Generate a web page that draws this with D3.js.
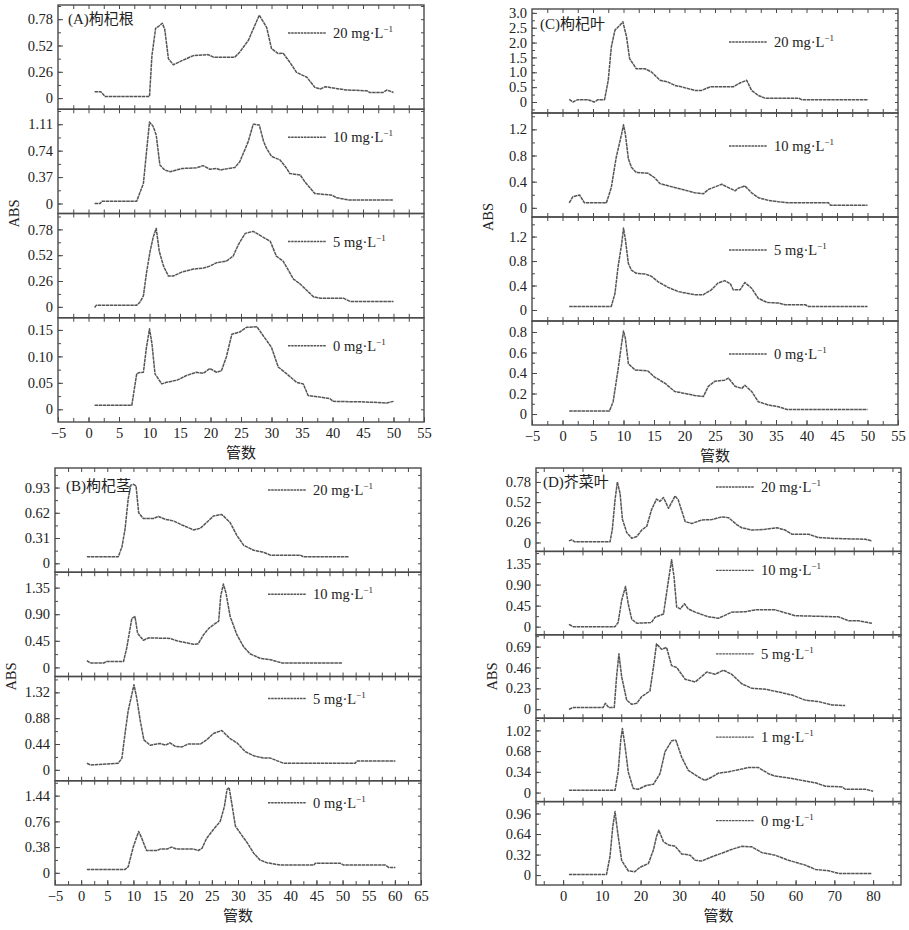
<!DOCTYPE html>
<html>
<head>
<meta charset="utf-8">
<script src="https://cdn.jsdelivr.net/npm/d3@7"></script>
<style>
  body { margin: 0; background: #fff; }
  text { fill: #222; }
</style>
</head>
<body>
<div id="chart"></div>
<script>
// ---- data: [tube, ABS] ----
const rootA20 = [[1,0.063],[2,0.063],[2.7,0.017],[10,0.017],[10.4,0.42],[11,0.69],[11.5,0.71],[12.1,0.74],[12.5,0.68],[13.1,0.39],[13.9,0.33],[15.3,0.37],[17.2,0.42],[19.6,0.43],[20.5,0.405],[24,0.405],[24.8,0.455],[26.2,0.57],[28,0.82],[29.2,0.70],[30,0.49],[31.1,0.44],[31.9,0.445],[33,0.355],[34.1,0.255],[35.8,0.206],[37.1,0.106],[38,0.09],[38.8,0.113],[40.1,0.10],[42.3,0.08],[45.6,0.073],[46.1,0.056],[48.3,0.056],[48.9,0.08],[50,0.056]];
const rootA10 = [[1,0],[1.9,0],[2.2,0.033],[7.9,0.033],[9,0.28],[9.4,0.63],[10,1.14],[10.6,1.08],[11.1,0.96],[11.7,0.54],[12.5,0.47],[13.4,0.445],[15.3,0.49],[17.7,0.50],[18.8,0.53],[19.9,0.48],[21,0.49],[21.6,0.47],[24,0.505],[24.8,0.585],[26.2,0.87],[27,1.11],[28,1.10],[28.7,0.87],[29.2,0.77],[30,0.66],[31.4,0.61],[32.5,0.49],[33,0.42],[34.7,0.40],[35.5,0.30],[37.1,0.14],[38.8,0.126],[39.9,0.117],[40.7,0.08],[42.6,0.05],[50,0.05]];
const rootA5 = [[1,-0.007],[1.3,0.017],[7.9,0.017],[8.4,0.044],[9,0.11],[9.5,0.34],[10.1,0.56],[10.6,0.70],[11.1,0.79],[11.6,0.56],[12.3,0.41],[13.1,0.31],[13.9,0.31],[15.3,0.35],[17.2,0.38],[18.8,0.39],[19.9,0.41],[21,0.445],[22.6,0.46],[23.7,0.51],[24.6,0.63],[25.7,0.74],[27,0.76],[28.4,0.71],[29.8,0.66],[30.8,0.51],[31.9,0.46],[33.6,0.28],[34.7,0.23],[36.9,0.10],[38,0.087],[41.8,0.087],[42.9,0.054],[50,0.054]];
const rootA0 = [[1,0.0075],[7.1,0.0075],[7.9,0.067],[8.2,0.069],[9,0.070],[9.5,0.117],[10,0.152],[10.4,0.124],[10.9,0.067],[12,0.048],[12.8,0.051],[14.5,0.055],[16.1,0.064],[17.7,0.070],[18.8,0.068],[19.9,0.077],[21,0.070],[21.8,0.073],[22.6,0.099],[23.5,0.142],[24.8,0.146],[25.9,0.155],[27.6,0.156],[29.2,0.13],[30,0.117],[31.1,0.080],[32.5,0.067],[34.1,0.051],[35.2,0.048],[36,0.026],[38,0.023],[39.6,0.020],[40.1,0.015],[45.1,0.014],[48.9,0.012],[50,0.015]];

const stemB20 = [[1.1,0.08],[7.1,0.08],[7.8,0.20],[8.4,0.42],[9,0.79],[9.5,0.96],[10,0.97],[10.5,0.95],[11,0.62],[11.9,0.55],[13.8,0.55],[14.8,0.575],[16.1,0.54],[17.7,0.52],[19.3,0.47],[21.5,0.41],[22.8,0.43],[24,0.50],[25.3,0.58],[26.9,0.60],[28.5,0.50],[29.8,0.34],[31.1,0.22],[33,0.16],[34.9,0.135],[36.2,0.10],[41.9,0.10],[42.5,0.08],[51.2,0.08]];
const stemB10 = [[1.1,0.115],[1.7,0.075],[4.3,0.075],[4.9,0.10],[8.1,0.10],[8.7,0.32],[9.7,0.83],[10.3,0.86],[10.8,0.575],[11.9,0.46],[12.9,0.50],[17,0.49],[18.3,0.45],[20.5,0.41],[21.5,0.39],[22.4,0.40],[23.4,0.55],[24.4,0.66],[25.3,0.72],[26.3,0.78],[26.7,1.21],[27.2,1.41],[27.7,1.26],[28.5,0.86],[29.8,0.55],[31.1,0.345],[32.3,0.23],[34.2,0.155],[36.2,0.13],[38.4,0.075],[49.9,0.075]];
const stemB5 = [[1.1,0.112],[1.8,0.084],[7.1,0.112],[7.8,0.20],[8.4,0.62],[9,1.01],[9.7,1.29],[10.1,1.45],[10.6,1.24],[11.3,0.84],[12,0.51],[13.2,0.42],[15.1,0.45],[16.1,0.42],[17,0.46],[18,0.40],[19.3,0.39],[20.5,0.44],[22.8,0.44],[24,0.51],[25.3,0.62],[26.9,0.67],[28.5,0.53],[29.8,0.46],[31.4,0.31],[33,0.24],[34.9,0.20],[36.2,0.20],[37.4,0.157],[38.7,0.112],[52.4,0.112],[52.8,0.15],[60.1,0.15]];
const stemB0 = [[1.1,0.05],[8.4,0.05],[9,0.09],[10,0.39],[11,0.61],[11.6,0.51],[12.5,0.33],[14.5,0.33],[15.1,0.35],[16.4,0.35],[17.3,0.38],[18.3,0.35],[21.5,0.35],[22.4,0.33],[23.1,0.36],[24,0.51],[25.3,0.64],[26.6,0.76],[27.4,0.98],[27.9,1.23],[28.3,1.26],[28.8,1.03],[29.5,0.69],[30.4,0.59],[31.7,0.45],[33,0.29],[34.2,0.19],[35.5,0.15],[36.2,0.14],[38.1,0.114],[44.5,0.114],[44.8,0.14],[49.6,0.14],[50.2,0.114],[58.2,0.114],[58.8,0.08],[60.1,0.08]];

const leafC20 = [[1.1,0.09],[1.7,0],[2.5,0.08],[4.2,0.08],[5.2,0],[5.8,0.08],[6.9,0.08],[7.5,0.73],[8,1.85],[8.6,2.42],[9.4,2.58],[9.9,2.70],[10.5,2.19],[11,1.46],[12.1,1.12],[13.5,1.12],[14.6,1.01],[16,0.73],[17.3,0.67],[18.4,0.56],[19.5,0.51],[20.6,0.45],[21.7,0.39],[22.8,0.39],[24.2,0.51],[28,0.51],[29.1,0.64],[30.2,0.73],[31,0.39],[32.1,0.22],[33.2,0.13],[38.7,0.13],[39.2,0.08],[50,0.08]];
const leafC10 = [[1.1,0.077],[1.7,0.17],[2.8,0.196],[3.6,0.077],[7.2,0.077],[8,0.31],[8.8,0.77],[9.7,1.13],[10,1.27],[10.3,1.13],[10.8,0.75],[11.3,0.62],[12.1,0.54],[14,0.53],[15.1,0.46],[16,0.37],[18.4,0.31],[20.1,0.27],[21.7,0.23],[23.1,0.216],[23.9,0.28],[25,0.32],[26.1,0.36],[27.2,0.31],[28.3,0.26],[28.8,0.30],[29.9,0.335],[31,0.23],[32.1,0.155],[33.8,0.113],[35.4,0.093],[37,0.077],[43.6,0.077],[43.9,0.041],[50,0.041]];
const leafC5 = [[1.1,0.059],[8,0.059],[8.6,0.27],[9.1,0.70],[9.7,1.08],[10,1.34],[10.3,1.16],[10.8,0.76],[11.3,0.65],[12.1,0.60],[13.5,0.59],[14.6,0.55],[15.7,0.46],[17.3,0.37],[19,0.30],[20.6,0.27],[21.7,0.25],[23.1,0.25],[24.4,0.33],[25.5,0.44],[26.6,0.48],[27.5,0.43],[28,0.33],[29.1,0.33],[29.9,0.45],[31,0.355],[32.1,0.19],[33.5,0.124],[35.4,0.113],[36.5,0.086],[39.8,0.086],[40.3,0.059],[50,0.059]];
const leafC0 = [[1.1,0.03],[7.7,0.03],[8.3,0.12],[9.1,0.43],[9.7,0.69],[10,0.81],[10.3,0.74],[10.8,0.49],[11.9,0.43],[14,0.42],[15.1,0.36],[16.8,0.30],[18.4,0.22],[20.1,0.20],[21.7,0.18],[23.1,0.17],[23.9,0.27],[25,0.32],[26.6,0.33],[27.2,0.35],[28.3,0.27],[29.4,0.25],[29.9,0.28],[31,0.22],[32.1,0.12],[33.8,0.087],[35.4,0.071],[36.8,0.045],[50,0.045]];

const mustD20 = [[1.5,0.02],[2.2,0.034],[3,0.008],[12.1,0.008],[12.7,0.17],[13.4,0.55],[14,0.78],[14.7,0.63],[15.3,0.30],[16.4,0.13],[17.7,0.055],[19,0.076],[20.3,0.16],[21.6,0.21],[22.8,0.42],[24.1,0.56],[25,0.53],[25.9,0.58],[27.2,0.44],[28.9,0.60],[29.7,0.55],[31.5,0.27],[33.2,0.245],[35.8,0.29],[38.4,0.295],[40.9,0.33],[42.7,0.32],[44.8,0.23],[46.1,0.19],[48.7,0.16],[52.2,0.17],[55.2,0.19],[57.3,0.16],[59.1,0.105],[63.4,0.105],[65.9,0.063],[71.1,0.05],[78,0.042],[79.7,0.02]];
const mustD10 = [[1.5,0.05],[2.6,0],[13.4,0],[14.2,0.09],[15.1,0.56],[16.1,0.86],[16.8,0.49],[17.7,0.16],[19,0.073],[22.8,0.09],[23.7,0.20],[25.9,0.27],[27.2,1.0],[28,1.43],[28.6,1.08],[29.3,0.42],[30.2,0.38],[31.3,0.49],[32.3,0.38],[34.1,0.31],[37.5,0.21],[40.1,0.18],[43.5,0.31],[47,0.32],[49.6,0.36],[54.7,0.36],[59.9,0.235],[71.1,0.21],[73.7,0.125],[76.3,0.125],[79.7,0.073]];
const mustD5 = [[1.5,0],[2.6,0.018],[10.3,0.018],[10.9,0.065],[11.8,0.018],[13.2,0.018],[13.8,0.36],[14.4,0.61],[15.1,0.36],[16.4,0.10],[17.7,0.054],[19,0.065],[20.3,0.14],[22.4,0.20],[23.3,0.46],[24.1,0.72],[25.4,0.66],[26.7,0.68],[28,0.48],[29.3,0.46],[31.5,0.33],[34.1,0.30],[37.1,0.41],[39.2,0.385],[41.4,0.43],[43.5,0.385],[46.1,0.28],[48.7,0.23],[52.2,0.22],[55.6,0.19],[59.1,0.156],[62.5,0.10],[65.9,0.084],[69.4,0.047],[72.8,0.04]];
const mustD1 = [[1.5,0.038],[13.4,0.038],[14.2,0.34],[14.9,0.88],[15.3,1.05],[15.9,0.80],[16.8,0.34],[18.1,0.065],[19.4,0.055],[21.6,0.12],[23.3,0.136],[25,0.31],[26.3,0.67],[28,0.85],[29.1,0.86],[30.6,0.58],[32.3,0.365],[34.9,0.256],[36.6,0.20],[38.4,0.256],[40.1,0.32],[42.7,0.34],[45.3,0.376],[47.8,0.41],[50.4,0.41],[53,0.31],[54.7,0.27],[58.2,0.24],[61.6,0.20],[65.1,0.16],[67.7,0.104],[72,0.093],[72.8,0.055],[78,0.055],[80,0.022]];
const mustD0 = [[1.5,0.01],[11.2,0.01],[12.1,0.29],[12.8,0.75],[13.4,0.99],[14,0.70],[15.1,0.23],[16.8,0.067],[18.5,0.052],[19.8,0.12],[22,0.18],[23.3,0.39],[24.1,0.60],[24.7,0.70],[25.9,0.52],[27.2,0.47],[28.9,0.45],[30.6,0.33],[32.8,0.31],[34.1,0.23],[35.8,0.22],[38.4,0.285],[40.9,0.34],[43.5,0.40],[46.1,0.45],[48.7,0.44],[51.3,0.35],[54.7,0.31],[58.2,0.23],[62.5,0.155],[65.1,0.088],[68.5,0.067],[71.1,0.026],[79.7,0.026]];

// ---- axes: tick values, tick labels, axis ranges ----
const xTicksAC = [-5,0,5,10,15,20,25,30,35,40,45,50,55];
const xTicksB = [-5,0,5,10,15,20,25,30,35,40,45,50,55,60,65];
const xTicksD = [0,10,20,30,40,50,60,70,80];

const yTicksA = [[0,0.26,0.52,0.78],[0,0.37,0.74,1.11],[0,0.26,0.52,0.78],[0,0.05,0.10,0.15]];
const yLabelsA = [["0","0.26","0.52","0.78"],["0","0.37","0.74","1.11"],["0","0.26","0.52","0.78"],["0","0.05","0.10","0.15"]];
const yRangeA = [[-0.11,0.92],[-0.14,1.32],[-0.11,0.94],[-0.024,0.173]];

const yTicksC = [[0,0.5,1.0,1.5,2.0,2.5,3.0],[0,0.4,0.8,1.2],[0,0.4,0.8,1.2],[0,0.2,0.4,0.6,0.8]];
const yLabelsC = [["0","0.5","1.0","1.5","2.0","2.5","3.0"],["0","0.4","0.8","1.2"],["0","0.4","0.8","1.2"],["0","0.2","0.4","0.6","0.8"]];
const yRangeC = [[-0.37,3.13],[-0.14,1.45],[-0.18,1.52],[-0.107,0.907]];

const yTicksB = [[0,0.31,0.62,0.93],[0,0.45,0.90,1.35],[0,0.44,0.88,1.32],[0,0.38,0.76,1.14]];
const yLabelsB = [["0","0.31","0.62","0.93"],["0","0.45","0.90","1.35"],["0","0.44","0.88","1.32"],["0","0.38","0.76","1.44"]];
const yRangeB = [[-0.11,1.17],[-0.154,1.61],[-0.186,1.59],[-0.18,1.36]];

const yTicksD = [[0,0.26,0.52,0.78],[0,0.45,0.90,1.35],[0,0.23,0.46,0.69],[0,0.34,0.68,1.02],[0,0.32,0.64,0.96]];
const yLabelsD = [["0","0.26","0.52","0.78"],["0","0.45","0.90","1.35"],["0","0.23","0.46","0.69"],["0","0.34","0.68","1.02"],["0","0.32","0.64","0.96"]];
const yRangeD = [[-0.115,0.96],[-0.174,1.61],[-0.099,0.82],[-0.148,1.22],[-0.155,1.146]];

const dosesABC = ["20", "10", "5", "0"];
const dosesD = ["20", "10", "5", "1", "0"];

// ---- layout ----
const W = 909, H = 930;
const SERIF = "'Liberation Serif', 'Times New Roman', 'Noto Sans CJK SC', serif";
const CJK = "'Noto Sans CJK SC', sans-serif";
const INK = "#4a4a4a";

const svg = d3.select("#chart").append("svg")
    .attr("width", W).attr("height", H)
    .style("display", "block");

const panels = [
    { tag: "(A)", name: "枸杞根", left: 58, right: 424, top: 5, bottom: 422,
      xDom: [-5, 55], minorStep: 2.5, xTicks: xTicksAC,
      series: [rootA20, rootA10, rootA5, rootA0], doses: dosesABC,
      yTicks: yTicksA, yLabels: yLabelsA, yRange: yRangeA,
      legX: 230, legDy: 28, tagDx: 10, tagDy: 19 },
    { tag: "(C)", name: "枸杞叶", left: 532, right: 898, top: 9, bottom: 425,
      xDom: [-5, 55], minorStep: 2.5, xTicks: xTicksAC,
      series: [leafC20, leafC10, leafC5, leafC0], doses: dosesABC,
      yTicks: yTicksC, yLabels: yLabelsC, yRange: yRangeC,
      legX: 197, legDy: 33, tagDx: 8, tagDy: 20 },
    { tag: "(B)", name: "枸杞茎", left: 55, right: 421, top: 468, bottom: 885,
      xDom: [-5, 65], minorStep: 2.5, xTicks: xTicksB,
      series: [stemB20, stemB10, stemB5, stemB0], doses: dosesABC,
      yTicks: yTicksB, yLabels: yLabelsB, yRange: yRangeB,
      legX: 213, legDy: 22, tagDx: 11, tagDy: 23 },
    { tag: "(D)", name: "芥菜叶", left: 536, right: 901, top: 468, bottom: 885,
      xDom: [-7, 87.2], minorStep: 5, xTicks: xTicksD,
      series: [mustD20, mustD10, mustD5, mustD1, mustD0], doses: dosesD,
      yTicks: yTicksD, yLabels: yLabelsD, yRange: yRangeD,
      legX: 180, legDy: 19, tagDx: 7, tagDy: 19 }
];

function styleAxis(g) {
    g.select(".domain").remove();
    g.selectAll(".tick line").attr("stroke", INK).attr("stroke-width", 1);
    g.selectAll(".tick text")
        .attr("font-family", SERIF).attr("font-size", 14.5).attr("fill", "#222");
}

function drawPanel(p) {
    const g = svg.append("g");
    const x = d3.scaleLinear().domain(p.xDom).range([p.left, p.right]);
    const n = p.series.length;
    const h = (p.bottom - p.top) / n;
    const minorX = d3.range(Math.ceil(p.xDom[0] / p.minorStep) * p.minorStep, p.xDom[1] + 1e-9, p.minorStep)
        .filter(v => x(v) > p.left + 1 && x(v) < p.right - 1);

    p.series.forEach((data, i) => {
        const t = p.top + i * h, b = t + h;
        const y = d3.scaleLinear().domain(p.yRange[i]).range([b, t]);
        const ticks = p.yTicks[i];
        const step = ticks[1] - ticks[0];
        const minorY = d3.range(Math.ceil(p.yRange[i][0] / (step / 2)) * (step / 2), p.yRange[i][1], step / 2)
            .filter(v => y(v) < b - 1 && y(v) > t + 1);

        // x ticks along top and bottom of every strip (inward)
        g.append("g").attr("transform", `translate(0,${b})`)
            .call(d3.axisBottom(x).tickValues(minorX).tickFormat("").tickSizeInner(-4).tickSizeOuter(0))
            .call(styleAxis);
        g.append("g").attr("transform", `translate(0,${t})`)
            .call(d3.axisTop(x).tickValues(minorX).tickFormat("").tickSizeInner(-4).tickSizeOuter(0))
            .call(styleAxis);

        // y minor ticks on both sides
        g.append("g").attr("transform", `translate(${p.left},0)`)
            .call(d3.axisLeft(y).tickValues(minorY).tickFormat("").tickSizeInner(-3).tickSizeOuter(0))
            .call(styleAxis);
        g.append("g").attr("transform", `translate(${p.right},0)`)
            .call(d3.axisRight(y).tickValues(minorY).tickFormat("").tickSizeInner(-3).tickSizeOuter(0))
            .call(styleAxis);

        // y major ticks with labels
        g.append("g").attr("transform", `translate(${p.left},0)`)
            .call(d3.axisLeft(y).tickValues(ticks).tickFormat((d, k) => p.yLabels[i][k])
                .tickSizeInner(-5).tickSizeOuter(0).tickPadding(5))
            .call(styleAxis);

        // curve
        g.append("path")
            .datum(data)
            .attr("fill", "none")
            .attr("stroke", "#555")
            .attr("stroke-width", 1.5)
            .attr("stroke-dasharray", "3.5,0.6")
            .attr("stroke-linejoin", "round")
            .attr("d", d3.line().x(d => x(d[0])).y(d => y(d[1])));

        // legend
        const ly = t + p.legDy;
        const lx = p.left + p.legX;
        g.append("line")
            .attr("x1", lx).attr("x2", lx + 38).attr("y1", ly).attr("y2", ly)
            .attr("stroke", "#555").attr("stroke-width", 1.3)
            .attr("stroke-dasharray", "2.5,0.7");
        const lt = g.append("text")
            .attr("x", lx + 45).attr("y", ly + 5)
            .attr("font-family", SERIF).attr("font-size", 14.5);
        lt.append("tspan").text(p.doses[i] + " mg\u00B7L");
        lt.append("tspan").attr("font-size", 9).attr("dy", -6).text("\u22121");

        // strip divider / frame
        g.append("rect")
            .attr("x", p.left).attr("y", t).attr("width", p.right - p.left).attr("height", h)
            .attr("fill", "none").attr("stroke", INK).attr("stroke-width", 1.4);
    });

    // bottom x labels
    g.append("g").attr("transform", `translate(0,${p.bottom})`)
        .call(d3.axisBottom(x).tickValues(p.xTicks)
            .tickFormat(d => d < 0 ? "\u2212" + Math.abs(d) : String(d))
            .tickSizeInner(-5).tickSizeOuter(0).tickPadding(6))
        .call(styleAxis);

    g.append("text")
        .attr("x", (p.left + p.right) / 2).attr("y", p.bottom + 36)
        .attr("text-anchor", "middle")
        .attr("font-family", CJK).attr("font-size", 15)
        .text("管数");

    const midY = (p.top + p.bottom) / 2;
    g.append("text")
        .attr("transform", `translate(${p.left - 39},${midY}) rotate(-90)`)
        .attr("text-anchor", "middle")
        .attr("font-family", SERIF).attr("font-size", 14.5)
        .text("ABS");

    const tg = g.append("text")
        .attr("x", p.left + p.tagDx).attr("y", p.top + p.tagDy)
        .attr("font-size", 15);
    tg.append("tspan").attr("font-family", SERIF).text(p.tag);
    tg.append("tspan").attr("font-family", CJK).text(p.name);
}

panels.forEach(drawPanel);
</script>
</body>
</html>
